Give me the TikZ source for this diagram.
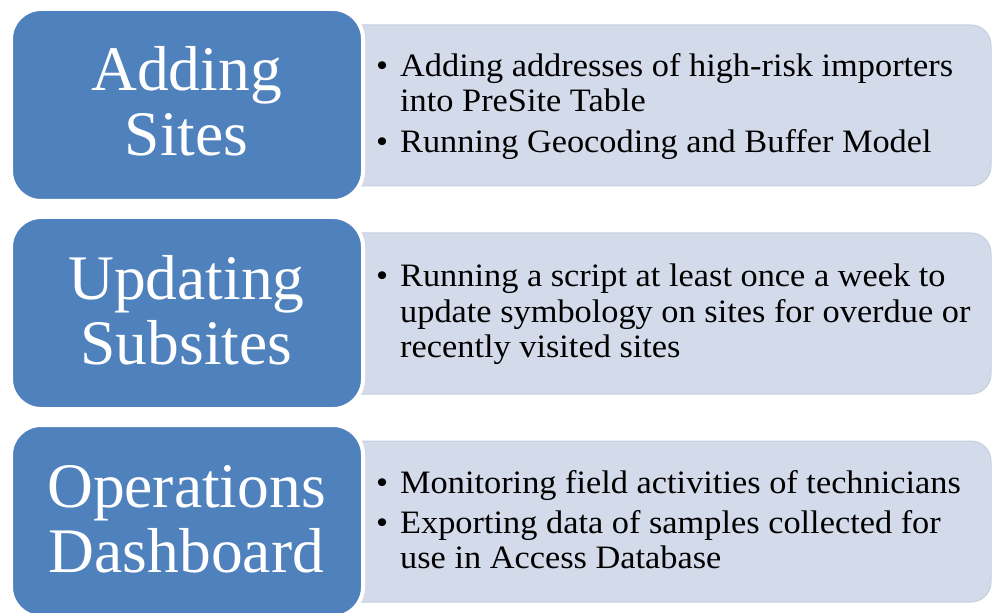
\documentclass[tikz,border=0pt]{standalone}
\usepackage{fontspec}
\setmainfont{Liberation Serif}
\newfontfamily\listfont{Liberation Serif}[FakeStretch=1.05]
\definecolor{headblue}{HTML}{4F81BD}
\definecolor{listfill}{HTML}{D3DAEA}
\definecolor{listedge}{HTML}{C6CEDF}
% one bullet column and one text column; rows are 35bp apart
\newenvironment{bulletlist}{\begin{tabular}[t]{@{}p{24bp}@{}l@{}}}{\end{tabular}}
\tikzset{
  headbox/.style={fill=headblue, draw=white, line width=4bp, rounded corners=30bp},
  listbox/.style={fill=listfill, draw=listedge, line width=1bp, rounded corners=20bp},
  headtext/.style={text=white, anchor=base, inner sep=0pt, font=\fontsize{63.5bp}{65bp}\selectfont},
  listtext/.style={text=black, anchor=base west, inner sep=0pt,
    font=\listfont\fontsize{32.7bp}{35bp}\selectfont},
}
\begin{document}
\begin{tikzpicture}[x=1bp, y=-1bp]
\useasboundingbox (0,0) rectangle (992,613);
\clip (0,0) rectangle (992,613);

% list panels (behind the heading blocks)
\draw[listbox] (330,25) rectangle (991,186);
\draw[listbox] (330,233) rectangle (991,394);
\draw[listbox] (330,441) rectangle (991,602);

% heading blocks
\draw[headbox] (11,9) rectangle (363,201);
\draw[headbox] (11,217) rectangle (363,409);
\draw[headbox] (11,425) rectangle (363,617);

\node[headtext] (h1) at (186.5,91) {Adding};
\node[headtext] (h1b) at (186.5,156) {Sites};
\node[headtext] (h2) at (186.5,299) {Updating};
\node[headtext] (h2b) at (186.5,364) {Subsites};
\node[headtext] (h3) at (186.5,507) {Operations};
\node[headtext] (h3b) at (186.5,572) {Dashboard};

% bullet lists
\node[listtext] (l1) at (376,77) {\begin{bulletlist}
  \textbullet & Adding addresses of high-risk importers\\
              & into PreSite Table\\[6bp]
  \textbullet & Running Geocoding and Buffer Model
\end{bulletlist}};
\node[listtext] (l2) at (376,287) {\begin{bulletlist}
  \textbullet & Running a script at least once a week to\\
              & update symbology on sites for overdue or\\
              & recently visited sites
\end{bulletlist}};
\node[listtext] (l3) at (376,493) {\begin{bulletlist}
  \textbullet & Monitoring field activities of technicians\\[5bp]
  \textbullet & Exporting data of samples collected for\\
              & use in Access Database
\end{bulletlist}};
\end{tikzpicture}
\end{document}
